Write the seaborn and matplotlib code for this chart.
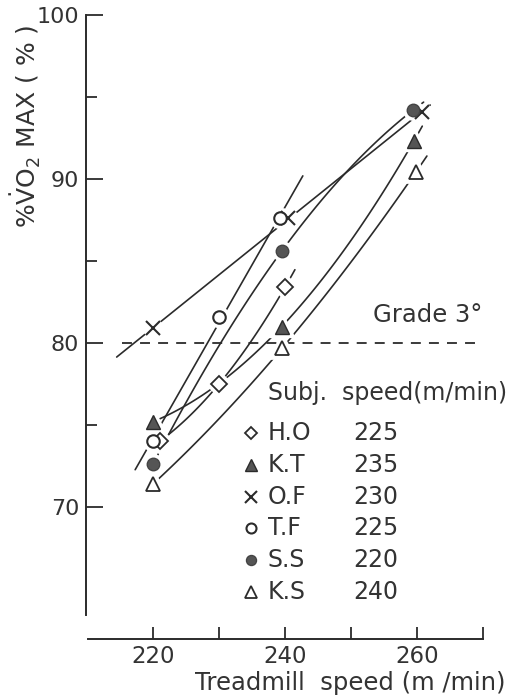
import numpy as np
import matplotlib
matplotlib.use("Agg")
import matplotlib.pyplot as plt
import seaborn as sns
from matplotlib.ticker import FixedLocator, NullFormatter

# Treadmill runs: speed (m/min) vs. percent of maximal oxygen uptake
subjects = ["H.O", "K.T", "O.F", "T.F", "S.S", "K.S"]
subj_speed = [225, 235, 230, 225, 220, 240]

ho_x = [221, 230, 240]
ho_y = [74.0, 77.5, 83.4]
kt_x = [220, 239.5, 259.5]
kt_y = [75.2, 81.0, 92.3]
of_x = [220, 240.5, 260.8]
of_y = [80.9, 87.6, 94.1]
tf_x = [220, 230, 239.3]
tf_y = [74.0, 81.6, 87.6]
ss_x = [220, 239.5, 259.4]
ss_y = [72.6, 85.6, 94.2]
ks_x = [220, 239.6, 259.8]
ks_y = [71.4, 79.7, 90.4]

# extent of each fitted curve, and the polynomial degree used for it
curve_span = {
    "H.O": (220.5, 241.5, 2),
    "K.T": (219.6, 260.8, 2),
    "O.F": (214.5, 262.0, 1),
    "T.F": (217.3, 242.7, 1),
    "S.S": (219.6, 261.0, 2),
    "K.S": (219.8, 261.5, 2),
}

grade_level = 80
x_major = [220, 240, 260]
x_minor = [230, 250, 270]
y_major = [70, 80, 90, 100]
y_minor = [75, 85, 95]

sns.set_theme(style="white")
plt.rcParams["font.family"] = ["DejaVu Sans"]
plt.rcParams["mathtext.fontset"] = "dejavusans"

INK = "#2b2b2b"
TXT = "#333333"

series = {
    "H.O": (ho_x, ho_y, dict(marker="D", ms=8.0, mfc="white", mec=INK, mew=1.3)),
    "K.T": (kt_x, kt_y, dict(marker="^", ms=10.0, mfc="#555555", mec=INK, mew=1.0)),
    "O.F": (of_x, of_y, dict(marker="x", ms=10.5, mfc="none", mec=INK, mew=1.5)),
    "T.F": (tf_x, tf_y, dict(marker="o", ms=9.0, mfc="white", mec=INK, mew=1.5)),
    "S.S": (ss_x, ss_y, dict(marker="o", ms=9.0, mfc="#555555", mec="#444444", mew=1.0)),
    "K.S": (ks_x, ks_y, dict(marker="^", ms=10.0, mfc="white", mec=INK, mew=1.3)),
}

fig = plt.figure(figsize=(5.22, 7.0), dpi=100)
ax = fig.add_axes([86 / 522, 1 - 639 / 700, 397 / 522, 624 / 700])
ax.set_xlim(209.85, 270)
ax.set_ylim(61.95, 100)

# reference level for the 3 degree grade
ax.hlines(grade_level, 215.3, 270, colors=INK, lw=1.3, linestyles=(0, (5.5, 4.5)), zorder=1)

# fitted curve through each subject's points, then the markers with a white halo
for name, (xs, ys, style) in series.items():
    lo, hi, deg = curve_span[name]
    coef = np.polyfit(xs, ys, deg)
    xx = np.linspace(lo, hi, 120)
    sns.lineplot(x=xx, y=np.polyval(coef, xx), ax=ax, color=INK, lw=1.2,
                 sort=False, estimator=None, zorder=2)
    halo = dict(style)
    halo.update(mfc="white", mec="white", mew=style["mew"] + 5, ls="none")
    ax.plot(xs, ys, zorder=3, **halo)
    ax.plot(xs, ys, ls="none", zorder=4, **style)

# axes frame: detached bottom axis, left axis stops short of it
for side in ("top", "right"):
    ax.spines[side].set_visible(False)
for side in ("left", "bottom"):
    ax.spines[side].set_color(INK)
    ax.spines[side].set_linewidth(1.4)
ax.spines["left"].set_bounds(63.4, 100)
ax.spines["bottom"].set_bounds(210.2, 270)

ax.xaxis.set_major_locator(FixedLocator(x_major))
ax.xaxis.set_minor_locator(FixedLocator(x_minor))
ax.xaxis.set_minor_formatter(NullFormatter())
ax.yaxis.set_major_locator(FixedLocator(y_major))
ax.yaxis.set_minor_locator(FixedLocator(y_minor))
ax.yaxis.set_minor_formatter(NullFormatter())

ax.tick_params(axis="x", which="both", direction="in", length=9, width=1.3,
               color=INK, labelsize=16.5, labelcolor=TXT, pad=4,
               bottom=True, top=False)
ax.tick_params(axis="y", which="major", direction="in", length=12, width=1.3,
               color=INK, labelsize=16, labelcolor=TXT, pad=5,
               left=True, right=False)
ax.tick_params(axis="y", which="minor", direction="in", length=8, width=1.3,
               color=INK, left=True, right=False)
ax.grid(False)

ax.set_xlabel("Treadmill  speed (m /min)", fontsize=17.5, color=TXT, va="center")
ax.xaxis.set_label_coords(0.665, -0.0705)
ax.set_ylabel(r"%$\dot{\rm V}$O$_2$ MAX ( % )", fontsize=18, color=TXT,
              va="center", ha="center")
ax.yaxis.set_label_coords(-0.151, 0.822)

ax.text(0.723, 0.519, "Grade 3°", transform=ax.transAxes, fontsize=17.5,
        color=TXT, ha="left", va="center")

# legend block: subject, marker and self-selected speed
ax.text(0.458, 0.394, "Subj.  speed(m/min)", transform=ax.transAxes,
        fontsize=17, color=TXT, ha="left", va="center")
row_y = [0.330, 0.279, 0.228, 0.178, 0.127, 0.0753]
for name, spd, yy in zip(subjects, subj_speed, row_y):
    style = dict(series[name][2])
    style["ms"] = style["ms"] * 0.8
    ax.plot([0.416], [yy], transform=ax.transAxes, ls="none", clip_on=False,
            zorder=5, **style)
    ax.text(0.458, yy, name, transform=ax.transAxes, fontsize=17,
            color=TXT, ha="left", va="center")
    ax.text(0.6725, yy, str(spd), transform=ax.transAxes, fontsize=17,
            color=TXT, ha="left", va="center")

fig.savefig("out.png", dpi=100, facecolor="white")
